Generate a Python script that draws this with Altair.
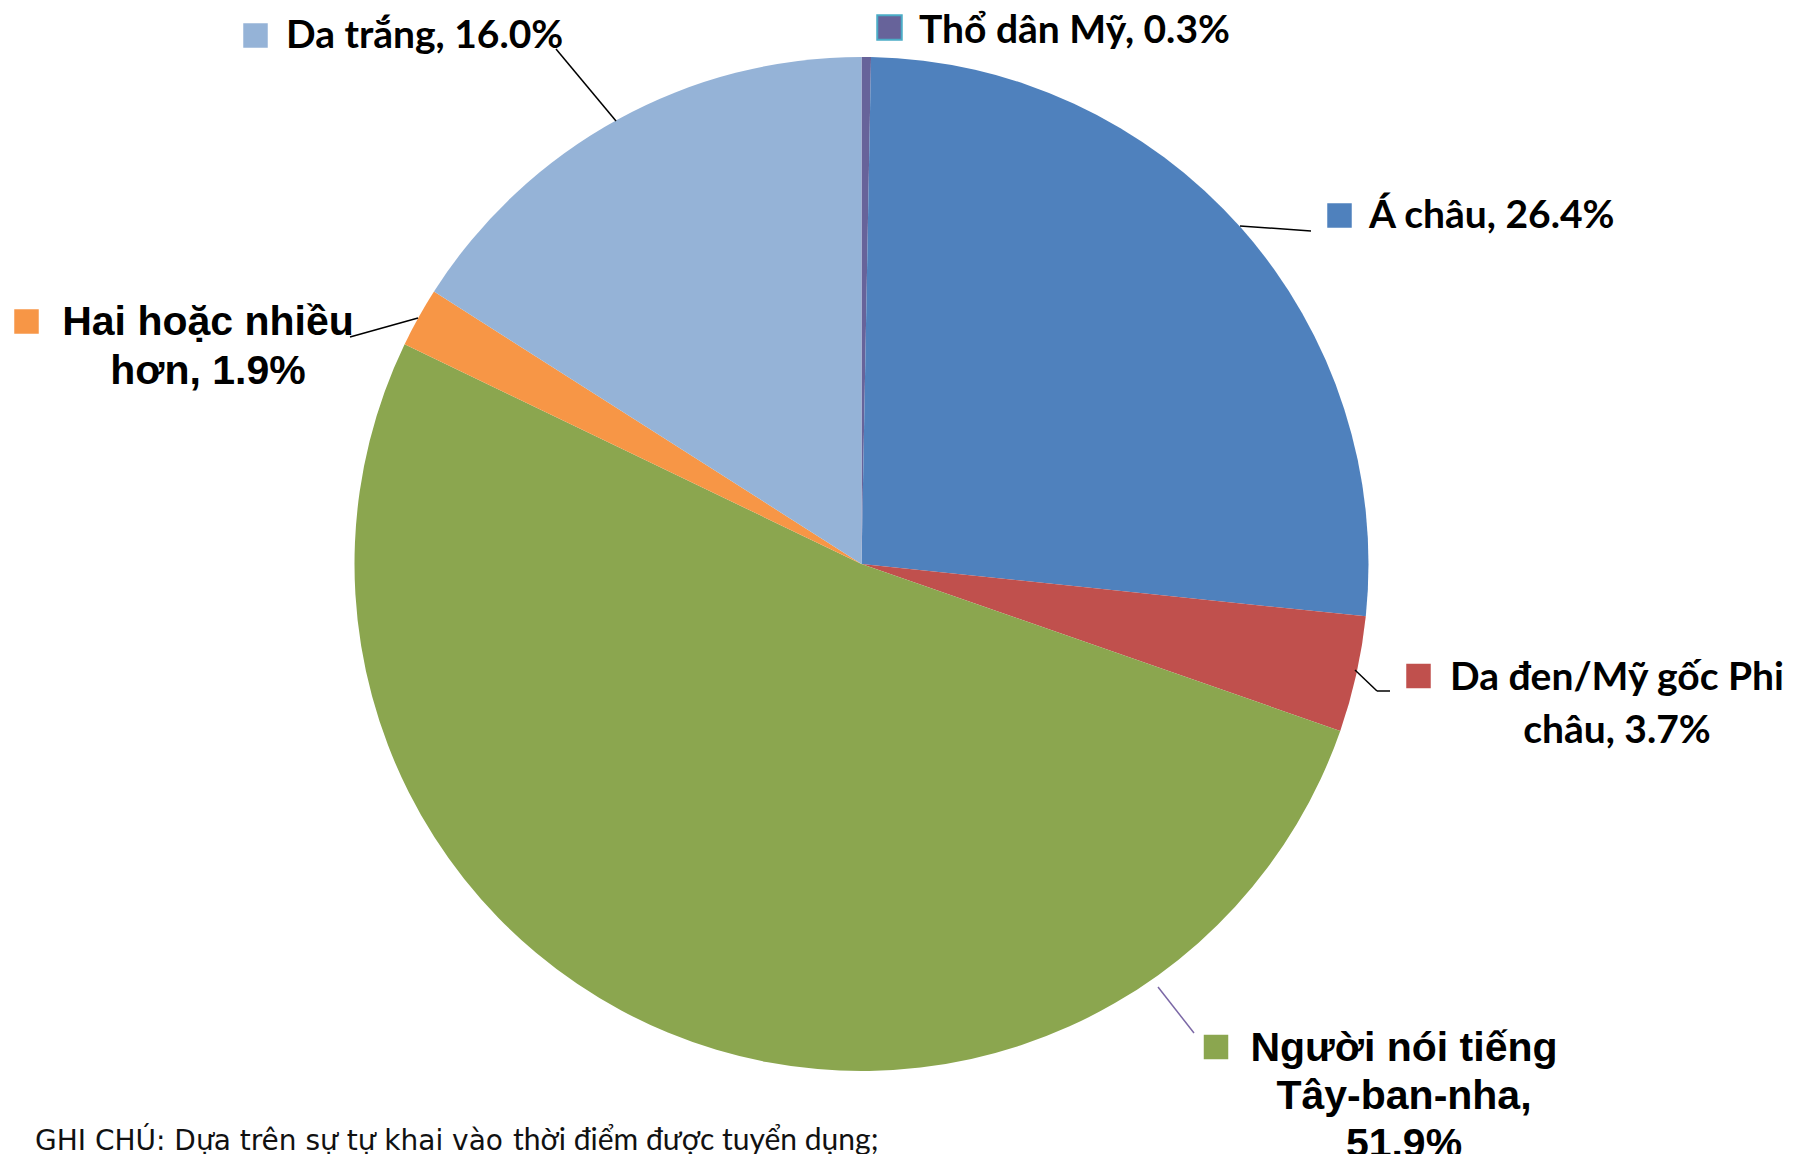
import altair as alt
import pandas as pd

# ---------------- data ----------------
categories = ["Thổ dân Mỹ", "Á châu", "Da đen/Mỹ gốc Phi châu",
              "Người nói tiếng Tây-ban-nha", "Hai hoặc nhiều hơn", "Da trắng"]
values = [0.3, 26.4, 3.7, 51.9, 1.9, 16.0]
colors = ["#67639A", "#4F81BD", "#C0504D", "#8BA64F", "#F79646", "#95B3D7"]

note_a = "GHI CHÚ: Dựa trên sự tự khai vào"
note_b = "thời điểm được tuyển dụng;"
page_no = "7"

# ---------------- layout (page pixel coordinates) ----------------
OFF = 8
W, H = 1806 - 2 * OFF, 1162 - 2 * OFF
CX, CY, R = 861.5 - OFF, 564 - OFF, 507

CAL = "Lato"              # stands in for Calibri
ARI = "Liberation Sans"   # stands in for Arial

# swatch centre, text anchor, alignment, font, size, word-break positions, leader polyline
layout = {
    "Thổ dân Mỹ": dict(sw=(889.5, 27.5), tx=(919, 43), align="left", font=CAL, size=39,
                       breaks=[], leader=[]),
    "Á châu": dict(sw=(1339.5, 215.5), tx=(1369, 228), align="left", font=CAL, size=39,
                   breaks=[], leader=[(1240, 226), (1311, 231)]),
    "Da đen/Mỹ gốc Phi châu": dict(sw=(1418.5, 676), tx=(1617, 690), align="center", font=CAL,
                                   size=39, breaks=[4], lh=53,
                                   leader=[(1355, 670), (1377, 691), (1390, 691)]),
    "Người nói tiếng Tây-ban-nha": dict(sw=(1216, 1047), tx=(1404, 1061), align="center",
                                        font=ARI, size=41, breaks=[3, 4], lh=48,
                                        leader=[(1158, 987), (1194, 1033)]),
    "Hai hoặc nhiều hơn": dict(sw=(26.5, 321.5), tx=(208, 335), align="center", font=ARI,
                               size=41, breaks=[3], lh=49,
                               leader=[(418, 318), (350, 337)]),
    "Da trắng": dict(sw=(255.5, 35.5), tx=(286, 48), align="left", font=CAL, size=39,
                     breaks=[], leader=[(556, 49), (616, 121)]),
}
leader_colors = {"Người nói tiếng Tây-ban-nha": "#7B68A6"}


def make_label(cat, val, breaks):
    words = f"{cat}, {val:.1f}%".split(" ")
    out = []
    for i, w in enumerate(words):
        if i in breaks:
            out.append("\n")
        elif i > 0:
            out.append(" ")
        out.append(w)
    return "".join(out)


df = pd.DataFrame({"category": categories, "value": values, "idx": range(len(categories))})

lab_rows, seg_rows, sw_rows = [], [], []
for cat, val in zip(categories, values):
    L = layout[cat]
    lab_rows.append(dict(category=cat, label=make_label(cat, val, L["breaks"]),
                         x=L["tx"][0] - OFF, y=L["tx"][1] - OFF,
                         grp=f'{L["font"]}|{L["align"]}|{L["size"]}|{L.get("lh", 40)}'))
    sw_rows.append(dict(category=cat, x=L["sw"][0] - OFF, y=L["sw"][1] - OFF,
                        stroke="#4BACC6" if cat == "Thổ dân Mỹ" else "transparent"))
    pts = L["leader"]
    for (x1, y1), (x2, y2) in zip(pts[:-1], pts[1:]):
        seg_rows.append(dict(x=x1 - OFF, y=y1 - OFF, x2=x2 - OFF, y2=y2 - OFF,
                             c=leader_colors.get(cat, "#000000")))

labels = pd.DataFrame(lab_rows)
segs = pd.DataFrame(seg_rows)
sws = pd.DataFrame(sw_rows)

color_scale = alt.Scale(domain=categories, range=colors)

pie = alt.Chart(df).mark_arc(outerRadius=R).encode(
    theta=alt.Theta("value:Q", stack=True),
    order=alt.Order("idx:Q"),
    color=alt.Color("category:N", scale=color_scale, legend=None),
    x=alt.value(CX), y=alt.value(CY),
)

leaders = alt.Chart(segs).mark_rule(strokeWidth=1.5).encode(
    x=alt.X("x:Q", scale=None), y=alt.Y("y:Q", scale=None),
    x2="x2:Q", y2="y2:Q",
    color=alt.Color("c:N", scale=None),
)

swatches = alt.Chart(sws).mark_square(size=600, opacity=1, strokeWidth=2).encode(
    x=alt.X("x:Q", scale=None), y=alt.Y("y:Q", scale=None),
    fill=alt.Fill("category:N", scale=color_scale, legend=None),
    stroke=alt.Stroke("stroke:N", scale=None),
)

text_layers = []
for grp in labels["grp"].unique():
    font, align, size, lh = grp.split("|")
    text_layers.append(
        alt.Chart(labels[labels["grp"] == grp]).mark_text(
            font=font, fontWeight="bold", fontSize=int(size), align=align,
            baseline="alphabetic", lineBreak="\n", lineHeight=int(lh), color="#000000",
        ).encode(x=alt.X("x:Q", scale=None), y=alt.Y("y:Q", scale=None), text="label:N")
    )

note1 = alt.Chart(pd.DataFrame({"t": [note_a]})).mark_text(
    font="DejaVu Sans", fontSize=28, align="left", baseline="alphabetic", color="#111111"
).encode(text="t:N", x=alt.value(35 - OFF), y=alt.value(1150 - OFF))

note2 = alt.Chart(pd.DataFrame({"t": [note_b]})).mark_text(
    font=CAL, fontSize=30, align="left", baseline="alphabetic", color="#111111"
).encode(text="t:N", x=alt.value(513 - OFF), y=alt.value(1150 - OFF))

pnum = alt.Chart(pd.DataFrame({"t": [page_no]})).mark_text(
    font=ARI, fontSize=30, align="left", baseline="alphabetic", color="#333333"
).encode(text="t:N", x=alt.value(1720 - OFF), y=alt.value(1174 - OFF))

chart = alt.layer(pie, leaders, swatches, *text_layers, note1, note2, pnum).properties(
    width=W, height=H, autosize="none", padding=0
).configure_view(strokeWidth=0)

chart.save("out.html", embed_options={"renderer": "svg", "actions": False})
